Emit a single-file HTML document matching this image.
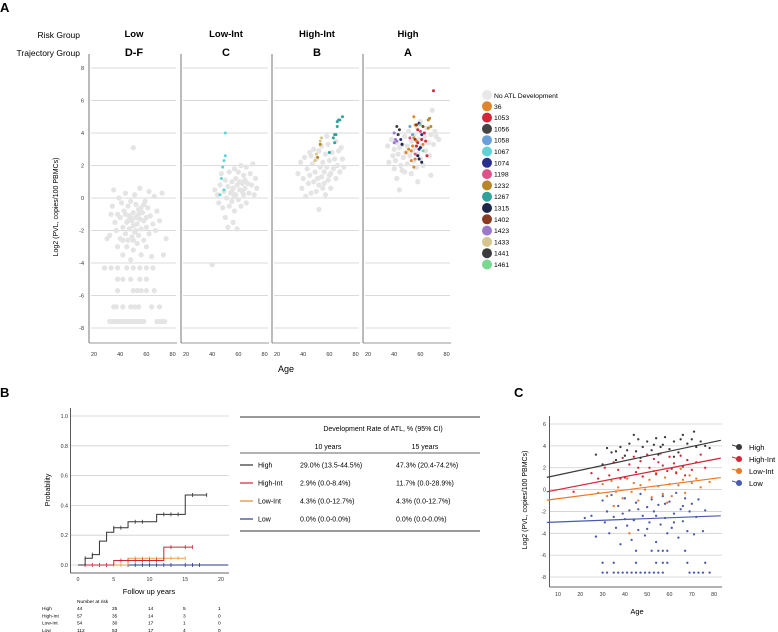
<!DOCTYPE html>
<html><head><meta charset="utf-8"><style>
html,body{margin:0;padding:0;background:#fff;}
svg{display:block;font-family:"Liberation Sans",Arial,sans-serif;}
</style></head><body>
<svg id="fig" width="778" height="632" viewBox="0 0 778 632" xmlns="http://www.w3.org/2000/svg"></svg>
<script>
// ---------- DATA ----------
const riskGroups = ["Low","Low-Int","High-Int","High"];
const trajGroups = ["D-F","C","B","A"];
const yTicksA = [8,6,4,2,0,-2,-4,-6,-8];
const xTicksA = [20,40,60,80];
const lowPts = [[30,-2.5],[32,-2.3],[33,-1],[34,-0.5],[35,0.5],[36,-1.5],[37,-2],[38,-3],[38,-1],[39,0],[40,-2.5],[40,-1.2],[41,-0.3],[42,-3.5],[42,-1.8],[43,-0.8],[44,-2.2],[44,0.3],[45,-1.5],[45,-3],[46,-0.5],[46,-2.6],[47,-1.1],[47,-1.9],[48,-3.8],[48,-0.2],[49,-1.4],[49,-2.4],[50,-0.9],[50,-1.7],[50,-3.2],[51,0.2],[51,-2.1],[52,-1.2],[52,-0.4],[53,-2.8],[53,-1.6],[54,-0.7],[54,-2.3],[55,-1.3],[55,0.6],[56,-3.5],[56,-1.9],[57,-0.9],[58,-2.6],[58,-1.4],[59,-0.2],[60,-3],[60,-1.8],[61,-0.6],[62,-2.2],[62,0.4],[63,-1.1],[64,-3.6],[65,-1.6],[66,0.1],[67,-2],[68,-0.8],[70,-1.4],[72,0.3],[73,-3.5],[75,-2.5],[44,-1.0],[48,-1.2],[52,-2.0],[56,-0.6],[46,-1.4],[50,-2.6],[54,-1.0],[58,-0.4],[60,-1.2],[42,-2.6],
[28,-4.3],[33,-4.3],[38,-4.3],[45,-4.3],[50,-4.3],[55,-4.3],[60,-4.3],[65,-4.3],[38,-5],[42,-5],[48,-5],[55,-5],[60,-5],[38,-5.7],[50,-5.7],[53,-5.7],[56,-5.7],[60,-5.7],[66,-5.7],[35,-6.7],[37,-6.7],[42,-6.7],[48,-6.7],[51,-6.7],[54,-6.7],[64,-6.7],[70,-6.7],
[32,-7.6],[34,-7.6],[36,-7.6],[38,-7.6],[40,-7.6],[42,-7.6],[44,-7.6],[46,-7.6],[48,-7.6],[50,-7.6],[52,-7.6],[54,-7.6],[56,-7.6],[58,-7.6],[68,-7.6],[70,-7.6],[72,-7.6],[74,-7.6],[50,3.1]];
const lowIntPts = [[40,-4.1],[42,0.5],[44,0.2],[45,-0.3],[46,0.8],[47,1.5],[48,-0.6],[49,0.4],[50,1.1],[50,-1.2],[51,0.0],[52,0.7],[53,1.6],[53,-0.5],[54,0.3],[55,1.0],[55,-0.2],[56,0.6],[57,1.8],[57,-0.8],[58,0.2],[58,1.2],[59,0.8],[60,-0.1],[60,1.6],[61,0.5],[62,2.0],[62,-0.5],[63,0.9],[64,0.2],[64,1.4],[65,0.6],[66,1.9],[66,-0.3],[67,0.9],[68,0.3],[69,1.5],[70,0.8],[71,2.1],[72,0.2],[73,1.2],[74,0.6],[56,-1.5],[52,-1.8],[59,-1.9],[61,1.0],[55,0.4],[57,0.1],[63,0.4],[65,1.1]];
const highIntPts = [[36,1.5],[38,2.2],[39,0.6],[40,1.2],[41,2.5],[42,0.1],[43,1.8],[44,0.9],[45,2.8],[45,1.4],[46,0.3],[47,2.1],[48,1.0],[48,3.0],[49,1.6],[50,0.4],[50,2.4],[51,1.2],[52,2.9],[52,0.8],[53,1.9],[54,1.3],[54,3.2],[55,0.6],[55,2.2],[56,1.6],[57,2.7],[57,0.2],[58,1.9],[59,1.1],[59,3.3],[60,2.3],[61,1.5],[61,0.6],[62,2.8],[63,1.8],[64,2.4],[65,1.2],[65,3.5],[66,2.0],[67,2.9],[68,1.6],[69,3.1],[70,2.4],[71,1.9],[58,3.8],[52,-0.7],[46,2.6],[56,0.9],[60,1.4]];
const highPts = [[35,3.2],[36,2.2],[38,3.6],[39,2.6],[40,1.8],[40,3.0],[41,2.3],[42,3.4],[42,1.2],[43,2.7],[44,3.1],[44,0.5],[45,2.0],[46,3.3],[47,2.5],[48,1.6],[48,3.8],[49,2.8],[50,3.2],[50,2.1],[51,4.1],[52,2.6],[53,3.5],[53,1.5],[54,2.9],[55,3.9],[55,2.3],[56,3.1],[57,4.4],[57,1.9],[58,2.7],[59,3.6],[60,2.4],[60,4.7],[61,3.2],[62,2.0],[63,3.8],[64,2.9],[65,4.3],[66,3.4],[67,2.6],[68,3.9],[69,5.4],[70,3.3],[71,4.1],[72,3.8],[74,3.6],[68,1.4],[58,1.0],[46,1.7]];
const caseColors = ["#e0862a","#d0283a","#444444","#6a9fd8","#5ed5d5","#2a2f8f","#e0508a","#b8862a","#2fa29c","#1e2548","#8a3a20","#9a78cc","#d4c68e","#3c3c3c","#78d890"];
const caseLabels = ["36","1053","1056","1058","1067","1074","1198","1232","1267","1315","1402","1423","1433","1441","1461"];
// colored case points: [panel, age, pvl, colorIndex]
const casePts = [[1,50,4.0,4],[1,50,2.6,4],[1,49,2.3,4],[1,48,1.9,4],[1,47,1.2,4],[1,49,0.5,4],[1,46,0.2,4],
[2,70,5.0,8],[2,68,4.8,8],[2,67,4.8,8],[2,66,4.7,8],[2,66,4.4,8],[2,64,3.9,8],[2,65,3.9,8],[2,63,3.7,8],[2,64,3.4,8],[2,60,2.8,8],[2,54,3.7,12],[2,53,3.5,12],[2,53,3.3,7],[2,50,2.7,12],[2,51,2.5,7],[2,49,2.3,12],
[3,70,6.6,1],[3,42,4.4,2],[3,44,4.2,13],[3,40,4.0,11],[3,43,3.9,13],[3,41,3.6,11],[3,42,3.5,11],[3,40,3.4,11],[3,45,3.6,5],[3,46,3.3,9],[3,52,4.4,3],[3,55,5.0,0],[3,56,4.5,0],[3,57,4.5,10],[3,59,4.6,5],[3,60,4.5,14],[3,58,4.2,1],[3,60,4.1,6],[3,61,3.9,5],[3,54,3.9,3],[3,52,3.7,6],[3,55,3.7,0],[3,56,3.6,10],[3,57,3.5,0],[3,58,3.4,1],[3,61,3.6,1],[3,62,3.3,0],[3,60,3.1,9],[3,59,3.0,5],[3,57,3.2,1],[3,54,3.2,0],[3,53,2.9,0],[3,51,3.0,0],[3,49,2.8,0],[3,56,2.7,6],[3,58,2.6,9],[3,59,2.4,9],[3,62,2.9,14],[3,53,2.3,0],[3,56,2.4,0],[3,55,1.9,0],[3,61,2.2,9],[3,65,2.6,1],[3,66,4.8,7],[3,67,4.9,7],[3,66,4.3,7],[3,68,4.4,7],[3,63,4.0,1],[3,62,4.4,10],[3,64,3.5,1]];
// KM data
const xTicksB = [0,5,10,15,20];
const yTicksB = [0,0.2,0.4,0.6,0.8,1.0];
const kmHighT = [0,1,2,3,4,5,7,11,15,18];
const kmHighS = [0,0.045,0.07,0.16,0.22,0.25,0.29,0.34,0.47,0.47];
const kmHighCens = [1,2,5,6,8,9,12,13,14,16,18];
const kmHiIntT = [0,5,12,16];
const kmHiIntS = [0,0.03,0.12,0.12];
const kmHiIntCens = [1,2,3,4,6,7,8,9,10,11,13,15,16];
const kmLoIntT = [0,7,15];
const kmLoIntS = [0,0.045,0.045];
const kmLoIntCens = [5,6,8,9,10,11,12,13,14,15];
const kmLowT = [0,21];
const kmLowS = [0,0];
const kmLowCens = [7,8,9,10,11,12,13,15,16,17];
const riskNames = ["High","High-Int","Low-Int","Low"];
const riskNums = [[44,25,14,5,1],[57,35,14,3,0],[54,30,17,1,0],[112,53,17,4,0]];
const tblNames = ["High","High-Int","Low-Int","Low"];
const tblColors = ["#333333","#c8283a","#e08a2a","#2a3a8a"];
const tbl10 = ["29.0% (13.5-44.5%)","2.9% (0.0-8.4%)","4.3% (0.0-12.7%)","0.0% (0.0-0.0%)"];
const tbl15 = ["47.3% (20.4-74.2%)","11.7% (0.0-28.9%)","4.3% (0.0-12.7%)","0.0% (0.0-0.0%)"];
// Panel C
const xTicksC = [10,20,30,40,50,60,70,80];
const yTicksC = [6,4,2,0,-2,-4,-6,-8];
const cGroups = ["High","High-Int","Low-Int","Low"];
const cColors = ["#3a3a3a","#d0283a","#e8782a","#4a5ab0"];
const cIntercept = [0.9,-0.4,-1.1,-3.04];
const cSlope = [0.0435,0.0395,0.0265,0.0077];
const cHigh = [[27,3.2],[30,2.3],[32,3.8],[34,3.4],[36,2.7],[38,3.9],[40,3.1],[42,4.2],[44,5.0],[45,3.5],[46,4.6],[48,3.9],[50,4.4],[52,3.6],[54,4.7],[55,3.2],[57,4.1],[58,4.8],[60,3.7],[62,4.4],[64,3.4],[66,5.0],[68,4.2],[70,4.6],[71,5.3],[72,3.9],[74,4.4],[76,4.0],[78,3.8],[36,3.5],[47,2.9],[56,3.9],[65,4.6],[41,3.6],[53,4.1],[62,3.0]];
const cHiInt = [[25,1.5],[28,1.0],[31,2.0],[33,1.3],[35,2.5],[37,1.8],[39,2.9],[40,1.1],[42,2.3],[44,3.0],[45,1.6],[47,2.6],[48,1.2],[50,3.2],[51,2.0],[53,2.8],[54,1.4],[56,3.3],[57,2.2],[59,1.7],[60,3.0],[62,2.4],[63,1.5],[65,3.1],[66,2.1],[68,2.7],[70,1.8],[72,2.5],[74,3.2],[76,2.0],[17,-0.2],[46,2.0],[55,2.5],[61,1.9],[38,1.0],[67,1.3]];
const cLoInt = [[28,-0.3],[30,0.5],[32,-0.6],[34,0.8],[35,-1.5],[37,0.2],[39,-0.8],[41,1.0],[43,-0.2],[44,0.6],[46,-1.0],[48,1.2],[49,0.0],[51,0.9],[52,-0.7],[54,1.5],[55,0.3],[57,-0.4],[58,1.1],[60,0.5],[61,-0.6],[63,1.6],[64,0.4],[66,0.9],[67,-0.3],[69,1.3],[70,0.6],[72,1.0],[74,0.2],[78,0.7],[42,-4.0],[53,1.7],[59,-1.2],[47,0.4],[65,1.9],[36,-0.2]];
const cLow = [[22,-2.6],[25,-2.4],[27,-4.3],[30,-1.0],[31,-3.0],[32,-2.0],[33,-4.0],[34,-0.5],[35,-2.5],[36,-3.5],[37,-1.5],[38,-5.0],[39,-2.2],[40,-0.8],[41,-3.3],[42,-1.9],[43,-4.6],[44,-2.8],[45,-1.2],[46,-3.7],[47,-0.4],[48,-2.4],[49,-4.2],[50,-1.6],[51,-3.0],[52,-0.9],[53,-2.0],[54,-4.8],[55,-1.4],[56,-3.2],[57,-0.6],[58,-2.6],[59,-4.0],[60,-1.1],[61,-3.5],[62,-2.2],[63,-0.3],[64,-4.4],[65,-1.8],[66,-2.9],[67,-0.8],[68,-3.8],[69,-2.0],[70,-1.3],[71,-4.1],[72,-2.5],[73,-0.9],[75,-3.8],[76,-1.9],[46,-1.8],[54,-2.4],[58,-1.3],[50,-3.6],[62,-3.0],[40,-2.7],[66,-1.5],
[45,-5.6],[52,-5.6],[55,-5.6],[57,-5.6],[59,-5.6],[67,-5.6],[30,-6.7],[35,-6.7],[45,-6.7],[54,-6.7],[57,-6.7],[59,-6.7],[68,-6.7],[76,-6.7],
[30,-7.6],[32,-7.6],[35,-7.6],[37,-7.6],[39,-7.6],[41,-7.6],[43,-7.6],[45,-7.6],[47,-7.6],[49,-7.6],[51,-7.6],[53,-7.6],[55,-7.6],[57,-7.6],[69,-7.6],[71,-7.6],[73,-7.6],[75,-7.6],[78,-7.6]];

// ---------- HELPERS ----------
const svg = document.getElementById('fig');
const NS = "http://www.w3.org/2000/svg";
function mk(tag, attrs, parent){const e=document.createElementNS(NS,tag);for(const k in attrs)e.setAttribute(k,attrs[k]);(parent||svg).appendChild(e);return e;}
function txt(s, attrs, parent){const e=mk('text',attrs,parent);e.textContent=s;return e;}

// ---------- PANEL A ----------
let t;
t=txt("A",{x:0,y:12,'font-size':13,'font-weight':'bold'});


t=txt("Risk Group",{x:80,y:38,'font-size':8.5,'text-anchor':'end'});


t=txt("Trajectory Group",{x:80,y:56,'font-size':8.5,'text-anchor':'end'});


const panelLeft = [89,181,272,363];
const yA = v => 68 + (8 - v) * 16.25;
const xA = (p, a) => panelLeft[p] + 5 + (a - 20) * 1.31;
const panelPts = [lowPts, lowIntPts, highIntPts, highPts];
for (let p = 0; p < 4; p++) {
  const L = panelLeft[p];
  const g = mk('g',{});
  
  
  for (const v of yTicksA) {
    const l = mk('line',{x1:L+2,x2:L+87,y1:yA(v),y2:yA(v),stroke:'#cfcfcf','stroke-width':0.8},g);
    
    
  }
  const ax = mk('line',{x1:L,x2:L,y1:54,y2:343,stroke:'#777','stroke-width':1},g);
  
  
  const bx = mk('line',{x1:L,x2:L+88,y1:343,y2:343,stroke:'#777','stroke-width':0.8},g);
  
  
  for (const a of xTicksA) {
    const tl = txt(String(a),{x:xA(p,a),y:356,'font-size':5.5,'text-anchor':'middle',fill:'#333'},g);
    
    
  }
  const h1 = txt(riskGroups[p],{x:L+45,y:37,'font-size':9.5,'font-weight':'bold','text-anchor':'middle'},g);
  
  
  const h2 = txt(trajGroups[p],{x:L+45,y:56,'font-size':11,'font-weight':'bold','text-anchor':'middle'},g);
  
  
  for (const pt of panelPts[p]) {
    const c = mk('circle',{cx:xA(p,pt[0]),cy:yA(pt[1]),r:2.6,fill:'#e4e4e4'},g);
    
    
  }
}
for (const v of yTicksA) {
  const tl = txt(String(v),{x:84,y:yA(v)+2,'font-size':5.5,'text-anchor':'end',fill:'#333'});
  
  
}
for (const cp of casePts) {
  const c = mk('circle',{cx:xA(cp[0],cp[1]),cy:yA(cp[2]),r:1.5,fill:caseColors[cp[3]]});
  
  
}
t=txt("Log2 (PVL, copies/100 PBMCs)",{x:0,y:0,'font-size':7,'text-anchor':'middle',transform:'translate(58,207) rotate(-90)'});


t=txt("Age",{x:286,y:372,'font-size':9,'text-anchor':'middle'});


// legend A
let lg = mk('circle',{cx:487,cy:95,r:5,fill:'#e8e8e8'});


t=txt("No ATL Development",{x:494,y:98,'font-size':6.8});


for (let i = 0; i < caseLabels.length; i++) {
  const y = 106.3 + i * 11.3;
  const c = mk('circle',{cx:487,cy:y,r:5,fill:caseColors[i]});
  
  
  const tl = txt(caseLabels[i],{x:494,y:y+2.5,'font-size':6.8});
  
  
}

// ---------- PANEL B ----------
t=txt("B",{x:0,y:397,'font-size':13,'font-weight':'bold'});


const xB = v => 78 + v * 7.15;
const yB = v => 565 - v * 149;
for (const v of yTicksB) {
  const l = mk('line',{x1:71,x2:229,y1:yB(v),y2:yB(v),stroke:'#cfcfcf','stroke-width':0.8});
  
  
  const tl = txt(v.toFixed(1),{x:68,y:yB(v)+2,'font-size':5.3,'text-anchor':'end',fill:'#333'});
  
  
}
t=mk('line',{x1:70.5,x2:70.5,y1:408,y2:573,stroke:'#333','stroke-width':0.8});


t=mk('line',{x1:70.5,x2:229,y1:573,y2:573,stroke:'#333','stroke-width':0.8});


for (const v of xTicksB) {
  const tl = txt(String(v),{x:xB(v),y:581,'font-size':5.3,'text-anchor':'middle',fill:'#333'});
  
  
}
t=txt("Probability",{x:0,y:0,'font-size':7,'text-anchor':'middle',transform:'translate(50,490) rotate(-90)'});


t=txt("Follow up years",{x:149,y:594,'font-size':7.5,'text-anchor':'middle'});


function stepVal(T,S,x){let v=S[0];for(let i=0;i<T.length;i++){if(T[i]<=x)v=S[i];}return v;}
const kmSets = [[kmLowT,kmLowS,kmLowCens,'#2a3a8a','km-low'],[kmLoIntT,kmLoIntS,kmLoIntCens,'#e8a040','km-low-int'],[kmHiIntT,kmHiIntS,kmHiIntCens,'#c8283a','km-high-int'],[kmHighT,kmHighS,kmHighCens,'#333333','km-high']];
for (const [T,S,C,col,name] of kmSets) {
  let d = 'M'+xB(T[0])+','+yB(S[0]);
  for (let i=1;i<T.length;i++){d+=' H'+xB(T[i])+' V'+yB(S[i]);}
  const p = mk('path',{d:d,fill:'none',stroke:col,'stroke-width':1});
  
  
  for (const c of C) {
    const y = yB(stepVal(T,S,c));
    const m = mk('line',{x1:xB(c),x2:xB(c),y1:y-2,y2:y+2,stroke:col,'stroke-width':0.8});
    
    
  }
}
t=txt("Number at risk",{x:77,y:603,'font-size':4.8});


for (let r=0;r<4;r++){
  const y = 610 + r*7.3;
  const nl = txt(riskNames[r],{x:42,y:y,'font-size':4.8});
  
  
  for (let c=0;c<5;c++){
    const vl = txt(String(riskNums[r][c]),{x:[77,112,148,183,218][c],y:y,'font-size':4.8});
    
    
  }
}
// table
t=mk('line',{x1:240,x2:480,y1:417,y2:417,stroke:'#333','stroke-width':0.9});


t=txt("Development Rate of ATL, % (95% CI)",{x:383,y:431,'font-size':7,'text-anchor':'middle'});


t=txt("10 years",{x:328,y:449,'font-size':7,'text-anchor':'middle'});


t=txt("15 years",{x:425,y:449,'font-size':7,'text-anchor':'middle'});


t=mk('line',{x1:240,x2:480,y1:453,y2:453,stroke:'#333','stroke-width':0.7});


for (let r=0;r<4;r++){
  const y = 465 + r*18;
  const sw = mk('line',{x1:240,x2:253,y1:y,y2:y,stroke:tblColors[r],'stroke-width':1.2});
  
  
  const a = txt(tblNames[r],{x:258,y:y+2.5,'font-size':7});
  
  
  const b = txt(tbl10[r],{x:300,y:y+2.5,'font-size':7});
  
  
  const c = txt(tbl15[r],{x:396,y:y+2.5,'font-size':7});
  
  
}
t=mk('line',{x1:240,x2:480,y1:531,y2:531,stroke:'#333','stroke-width':0.9});



// ---------- PANEL C ----------
t=txt("C",{x:514,y:397,'font-size':13,'font-weight':'bold'});


const xC = a => 558 + (a - 10) * 2.23;
const yC = v => 424 + (6 - v) * 10.93;
for (const v of yTicksC) {
  const l = mk('line',{x1:550,x2:722,y1:yC(v),y2:yC(v),stroke:'#cfcfcf','stroke-width':0.8});
  
  
  const tl = txt(String(v),{x:546,y:yC(v)+2,'font-size':5.3,'text-anchor':'end',fill:'#333'});
  
  
}
t=mk('line',{x1:549.5,x2:549.5,y1:416,y2:587,stroke:'#333','stroke-width':0.8});


t=mk('line',{x1:549.5,x2:722,y1:587,y2:587,stroke:'#333','stroke-width':0.8});


for (const a of xTicksC) {
  const tl = txt(String(a),{x:xC(a),y:596,'font-size':5.3,'text-anchor':'middle',fill:'#333'});
  
  
}
const cPts = [cHigh,cHiInt,cLoInt,cLow];
for (let g=3; g>=0; g--) {
  for (const pt of cPts[g]) {
    const c = mk('circle',{cx:xC(pt[0]),cy:yC(pt[1]),r:1.15,fill:cColors[g]});
    
    
  }
}
for (let g=0; g<4; g++) {
  const a0=5,a1=83;
  const l = mk('line',{x1:xC(a0),x2:xC(a1),y1:yC(cIntercept[g]+cSlope[g]*a0),y2:yC(cIntercept[g]+cSlope[g]*a1),stroke:cColors[g],'stroke-width':1.2});
  
  
  const y = 447 + g*12;
  const sl = mk('line',{x1:732,x2:742,y1:y-2,y2:y+1,stroke:cColors[g],'stroke-width':1});
  
  
  const sc = mk('circle',{cx:739,cy:y,r:3,fill:cColors[g]});
  
  
  const tl = txt(cGroups[g],{x:749,y:y+3,'font-size':7.5});
  
  
}
t=txt("Log2 (PVL, copies/100 PBMCs)",{x:0,y:0,'font-size':7,'text-anchor':'middle',transform:'translate(527,500) rotate(-90)'});


t=txt("Age",{x:637,y:614,'font-size':7.5,'text-anchor':'middle'});


</script>
</body></html>
